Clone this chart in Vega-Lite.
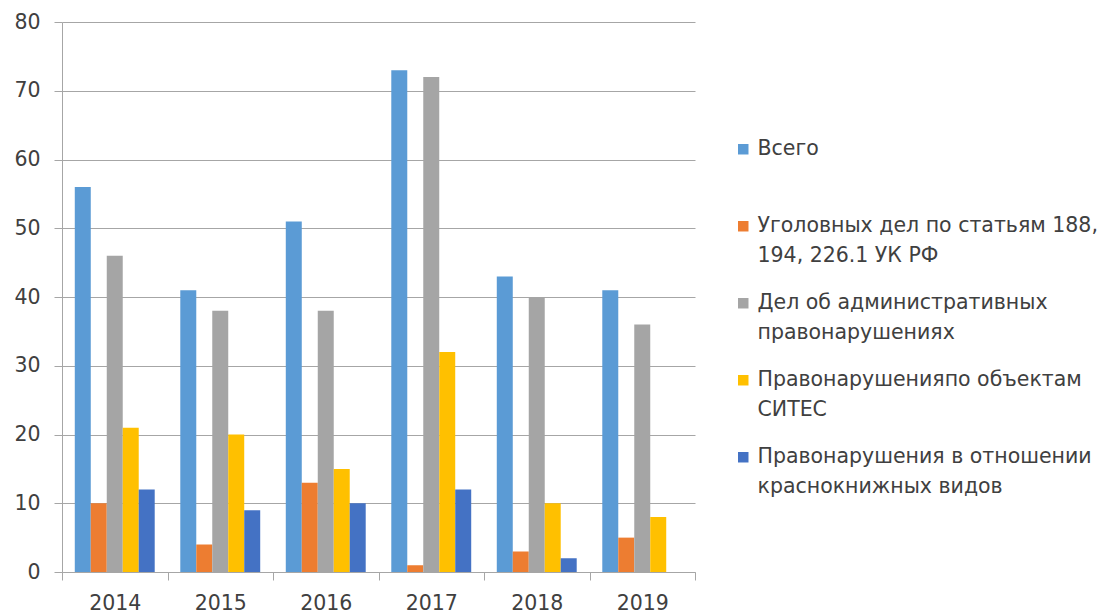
{
  "$schema": "https://vega.github.io/schema/vega-lite/v6.json",
  "autosize": "none",
  "width": 633,
  "height": 550,
  "padding": {"left": 62, "top": 22, "right": 406, "bottom": 42},
  "background": "white",
  "data": {
    "values": [
      {"year": "2014", "series": "Всего", "value": 56},
      {"year": "2014", "series": "Уголовных дел по статьям 188, 194, 226.1 УК РФ", "value": 10},
      {"year": "2014", "series": "Дел об административных правонарушениях", "value": 46},
      {"year": "2014", "series": "Правонарушенияпо объектам СИТЕС", "value": 21},
      {"year": "2014", "series": "Правонарушения в отношении краснокнижных видов", "value": 12},
      {"year": "2015", "series": "Всего", "value": 41},
      {"year": "2015", "series": "Уголовных дел по статьям 188, 194, 226.1 УК РФ", "value": 4},
      {"year": "2015", "series": "Дел об административных правонарушениях", "value": 38},
      {"year": "2015", "series": "Правонарушенияпо объектам СИТЕС", "value": 20},
      {"year": "2015", "series": "Правонарушения в отношении краснокнижных видов", "value": 9},
      {"year": "2016", "series": "Всего", "value": 51},
      {"year": "2016", "series": "Уголовных дел по статьям 188, 194, 226.1 УК РФ", "value": 13},
      {"year": "2016", "series": "Дел об административных правонарушениях", "value": 38},
      {"year": "2016", "series": "Правонарушенияпо объектам СИТЕС", "value": 15},
      {"year": "2016", "series": "Правонарушения в отношении краснокнижных видов", "value": 10},
      {"year": "2017", "series": "Всего", "value": 73},
      {"year": "2017", "series": "Уголовных дел по статьям 188, 194, 226.1 УК РФ", "value": 1},
      {"year": "2017", "series": "Дел об административных правонарушениях", "value": 72},
      {"year": "2017", "series": "Правонарушенияпо объектам СИТЕС", "value": 32},
      {"year": "2017", "series": "Правонарушения в отношении краснокнижных видов", "value": 12},
      {"year": "2018", "series": "Всего", "value": 43},
      {"year": "2018", "series": "Уголовных дел по статьям 188, 194, 226.1 УК РФ", "value": 3},
      {"year": "2018", "series": "Дел об административных правонарушениях", "value": 40},
      {"year": "2018", "series": "Правонарушенияпо объектам СИТЕС", "value": 10},
      {"year": "2018", "series": "Правонарушения в отношении краснокнижных видов", "value": 2},
      {"year": "2019", "series": "Всего", "value": 41},
      {"year": "2019", "series": "Уголовных дел по статьям 188, 194, 226.1 УК РФ", "value": 5},
      {"year": "2019", "series": "Дел об административных правонарушениях", "value": 36},
      {"year": "2019", "series": "Правонарушенияпо объектам СИТЕС", "value": 8},
      {"year": "2019", "series": "Правонарушения в отношении краснокнижных видов", "value": 0}
    ]
  },
  "mark": {"type": "bar"},
  "encoding": {
    "x": {
      "field": "year",
      "type": "nominal",
      "title": null,
      "scale": {"paddingInner": 0, "paddingOuter": 0},
      "axis": {
        "labelAngle": 0,
        "tickBand": "extent",
        "domainColor": "#a6a6a6",
        "tickColor": "#a6a6a6",
        "tickSize": 8,
        "labelPadding": 13,
        "grid": false
      }
    },
    "xOffset": {
      "field": "series",
      "type": "nominal",
      "sort": ["Всего", "Уголовных дел по статьям 188, 194, 226.1 УК РФ", "Дел об административных правонарушениях", "Правонарушенияпо объектам СИТЕС", "Правонарушения в отношении краснокнижных видов"],
      "scale": {"paddingInner": 0, "paddingOuter": 0.8}
    },
    "y": {
      "field": "value",
      "type": "quantitative",
      "title": null,
      "scale": {"domain": [0, 80], "nice": false},
      "axis": {
        "values": [0, 10, 20, 30, 40, 50, 60, 70, 80],
        "grid": true,
        "gridColor": "#a6a6a6",
        "domainColor": "#a6a6a6",
        "tickColor": "#a6a6a6",
        "tickSize": 8,
        "labelPadding": 14
      }
    },
    "color": {
      "field": "series",
      "type": "nominal",
      "sort": ["Всего", "Уголовных дел по статьям 188, 194, 226.1 УК РФ", "Дел об административных правонарушениях", "Правонарушенияпо объектам СИТЕС", "Правонарушения в отношении краснокнижных видов"],
      "scale": {
        "domain": ["Всего", "Уголовных дел по статьям 188, 194, 226.1 УК РФ", "Дел об административных правонарушениях", "Правонарушенияпо объектам СИТЕС", "Правонарушения в отношении краснокнижных видов"],
        "range": ["#5B9BD5", "#ED7D31", "#A5A5A5", "#FFC000", "#4472C4"]
      },
      "legend": {
        "title": null,
        "orient": "none",
        "legendX": 671,
        "legendY": 117,
        "padding": 0,
        "symbolType": "square",
        "symbolSize": 110,
        "symbolStrokeWidth": 0,
        "labelOffset": 4,
        "rowPadding": 26,
        "labelLimit": 500,
        "labelBaseline": "middle",
        "labelExpr": "datum.label == 'Всего' ? ['Всего', ''] : datum.label == 'Уголовных дел по статьям 188, 194, 226.1 УК РФ' ? ['Уголовных дел по статьям 188,', '194, 226.1 УК РФ'] : datum.label == 'Дел об административных правонарушениях' ? ['Дел об административных', 'правонарушениях'] : datum.label == 'Правонарушенияпо объектам СИТЕС' ? ['Правонарушенияпо объектам', 'СИТЕС'] : ['Правонарушения в отношении', 'краснокнижных видов']"
      }
    }
  },
  "config": {
    "view": {"stroke": null},
    "font": "DejaVu Sans",
    "axis": {"labelFont": "DejaVu Sans", "labelFontSize": 20.5, "labelColor": "#404040"},
    "legend": {"labelFont": "DejaVu Sans", "labelFontSize": 20.5, "labelColor": "#404040"},
    "style": {"guide-label": {"lineHeight": 30}}
  }
}
